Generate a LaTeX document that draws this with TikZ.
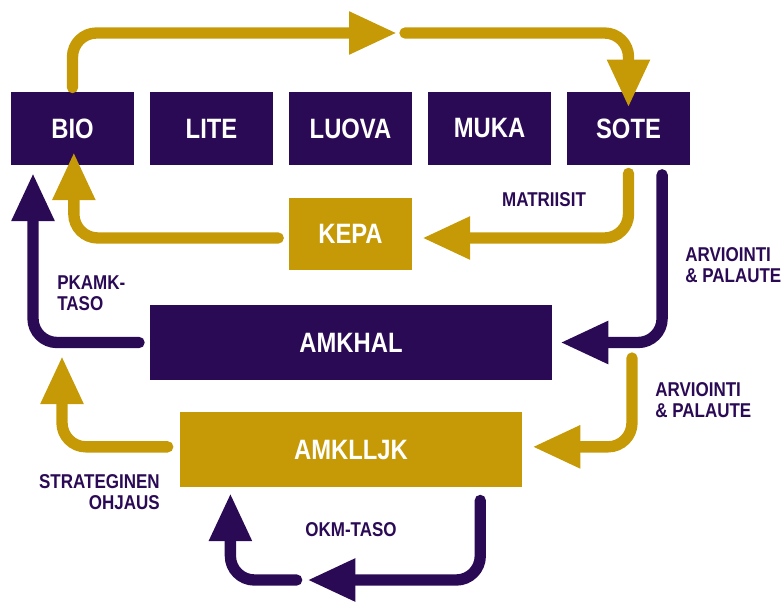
\documentclass[tikz,border=0pt]{standalone}
\usepackage{fontspec}
\setmainfont{Liberation Sans}[FakeStretch=0.85]
\usetikzlibrary{arrows.meta}
\definecolor{navy}{RGB}{43,10,85}
\definecolor{ochre}{RGB}{198,154,6}

\begin{document}
\begin{tikzpicture}[x=0.75pt,y=-0.75pt,
    unit/.style={fill=navy,text=white,font=\bfseries\fontsize{21}{23}\selectfont,
      minimum width=92pt,minimum height=55pt,inner sep=0pt},
    goldunit/.style={unit,fill=ochre},
    note/.style={text=navy,font=\bfseries\fontsize{15}{15.75}\selectfont,inner sep=0pt},
    flow/.style={line width=8.5pt,line cap=round,rounded corners=18pt,
      -{Triangle[width=30pt,length=36pt]}}]
      \useasboundingbox (0,0) rectangle (784,603);
      % faculties
      \node[unit] (BIO) at (72.5,128.5) {BIO};
      \node[unit] (LITE) at (211.5,128.5) {LITE};
      \node[unit] (LUOVA) at (350.5,128.5) {LUOVA};
      \node[unit] (MUKA) at (489.5,128.5) {MUKA};
      \node[unit] (SOTE) at (628.5,128.5) {SOTE};
      \node[goldunit,minimum height=54pt] (KEPA) at (350.5,234) {KEPA};
      \node[unit,minimum width=301.5pt,minimum height=56pt] (AMKHAL) at (351,342.5) {AMKHAL};
      \node[goldunit,minimum width=256.5pt,minimum height=56pt] (AMKLLJK) at (351,449.5) {AMKLLJK};
      % free ends
      \coordinate (top) at (401,33);
      \coordinate (pk) at (33,173);
      \coordinate (ar) at (632,358);
      \coordinate (so) at (62,356);
      \coordinate (okm) at (302,580);
      % gold arrows
      \draw[flow,ochre] ([yshift=3pt]BIO.north) |- ([xshift=-3pt]top);
      \draw[flow,ochre] ([xshift=3pt]top) -| ([yshift=-12pt]SOTE.north);
      \draw[flow,ochre] ([yshift=-6pt]SOTE.south) |- ([xshift=7.5pt,yshift=-3pt]KEPA.east);
      \draw[flow,ochre] ([xshift=-8pt,yshift=-3pt]KEPA.west) -| ([xshift=1pt,yshift=10pt]BIO.south);
      \draw[flow,ochre] (ar) |- ([xshift=7.5pt,yshift=2pt]AMKLLJK.east);
      \draw[flow,ochre] ([xshift=-9pt,yshift=2pt]AMKLLJK.west) -| (so);
      % navy arrows
      \draw[flow,navy] ([xshift=-21pt,yshift=-7pt]SOTE.south east) |- ([xshift=6pt]AMKHAL.east);
      \draw[flow,navy] ([xshift=-8pt]AMKHAL.west) -| (pk);
      \draw[flow,navy] ([xshift=-31.5pt,yshift=-10pt]AMKLLJK.south east) |- ([xshift=4pt]okm);
      \draw[flow,navy] ([xshift=-4pt]okm) -| ([xshift=38pt,yshift=-4.5pt]AMKLLJK.south west);
      % labels
      \node[note] (matr) at (544,200) {MATRIISIT};
      \node[note,align=left,anchor=west] (arv1) at (685,265) {ARVIOINTI\\\& PALAUTE};
      \node[note,align=left,anchor=west] (pkamk) at (57,293) {PKAMK-\\TASO};
      \node[note,align=left,anchor=west] (arv2) at (655,400) {ARVIOINTI\\\& PALAUTE};
      \node[note,align=right,anchor=east] (strat) at (160,492) {STRATEGINEN\\OHJAUS};
      \node[note] (okmtaso) at (351,530) {OKM-TASO};
\end{tikzpicture}
\end{document}
